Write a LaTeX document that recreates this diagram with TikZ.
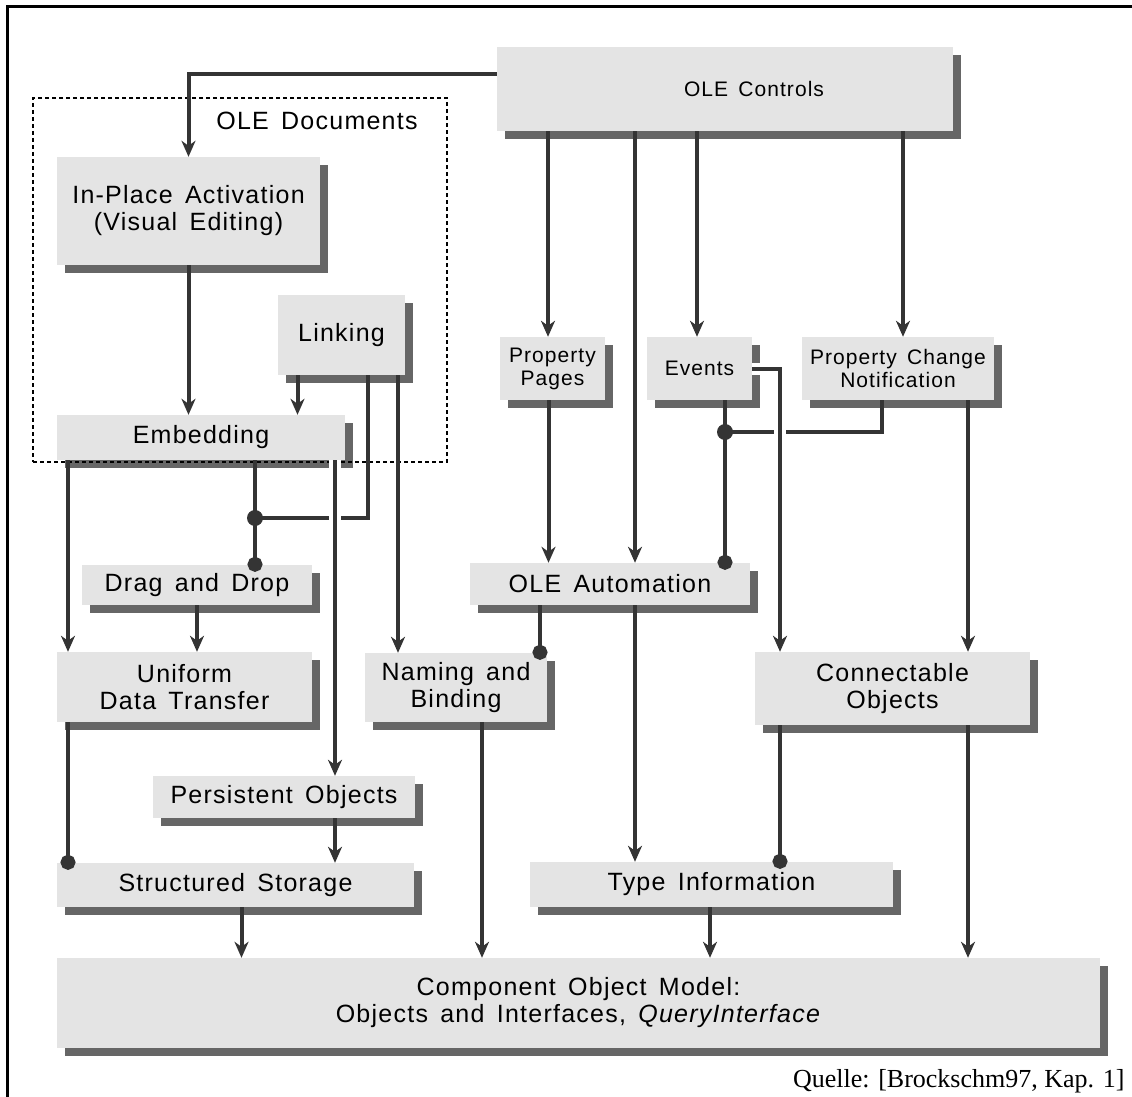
\documentclass[tikz,border=0pt]{standalone}
\usepackage{fontspec}
\setmainfont{Liberation Sans}[LetterSpace=5, WordSpace=1.5]
\newfontfamily\quellefont{Liberation Serif}
\usetikzlibrary{arrows.meta, shadows}
\definecolor{boxgray}{RGB}{228,228,228}
\definecolor{linegray}{RGB}{52,52,52}

\begin{document}
\begin{tikzpicture}[x=1pt, y=-1pt,
  box/.style={rectangle, fill=boxgray, inner sep=0pt, align=center, font=\fontsize{25}{27}\selectfont,
    drop shadow={shadow xshift=8pt, shadow yshift=-8pt, fill=black, opacity=0.6}},
  smallbox/.style={box, font=\fontsize{21}{23}\selectfont},
  conn/.style={draw=linegray, line width=4pt},
  arr/.style={conn, -{Stealth[length=16pt, width=14pt, inset=5pt]}},
  dotend/.style={conn, -{Circle[length=15pt]}, shorten >=-7pt},
  jdot/.style={circle, fill=linegray, inner sep=0pt, minimum size=16pt},
  gap/.style={preaction={draw=white, line width=12pt, -}}]

\useasboundingbox (0,0) rectangle (1132,1097);

% Rahmen
\draw[line width=3pt] (1132,7) -- (7,7) -- (7,1097);

% OLE Documents
\node[draw, dashed, line width=2pt, dash pattern=on 4pt off 3pt, minimum width=414pt, minimum height=364pt] (docs) at (240,280) {};
\node[font=\fontsize{25}{27}\selectfont] (docslabel) at (317,121) {OLE Documents};

% Kaesten
\node[box, minimum width=456pt, minimum height=84pt] (ctrl) at (725,89) {};
\node[font=\fontsize{21}{23}\selectfont] (ctrltext) at ([xshift=29pt]ctrl.center) {OLE Controls};
\node[box, minimum width=263pt, minimum height=108pt] (inplace) at (188.5,211) {In-Place Activation\\(Visual Editing)};
\node[box, minimum width=127pt, minimum height=80pt] (linking) at (341.5,335) {Linking};
\node[box, minimum width=288pt, minimum height=45pt] (embed) at (201,437.5) {Embedding};
\node[box, minimum width=230pt, minimum height=40pt] (dnd) at (197,585) {Drag and Drop};
\node[box, minimum width=255pt, minimum height=70pt] (udt) at (184.5,687) {Uniform\\Data Transfer};
\node[box, minimum width=182pt, minimum height=69pt] (naming) at (456,687.5) {Naming and\\Binding};
\node[box, minimum width=262pt, minimum height=42pt] (persist) at (284,797) {Persistent Objects};
\node[box, minimum width=357pt, minimum height=44pt] (storage) at (235.5,885) {Structured Storage};
\node[smallbox, minimum width=105pt, minimum height=63pt] (pages) at (552.5,368.5) {Property\\Pages};
\node[smallbox, minimum width=105pt, minimum height=63pt] (events) at (699.5,368.5) {Events};
\node[smallbox, minimum width=192pt, minimum height=63pt] (pcn) at (898,368.5) {Property Change\\Notification};
\node[box, minimum width=280pt, minimum height=42pt] (auto) at (610,584) {OLE Automation};
\node[box, minimum width=275pt, minimum height=73pt] (conn) at (892.5,688.5) {Connectable\\Objects};
\node[box, minimum width=363pt, minimum height=45pt] (typeinfo) at (711.5,884.5) {Type Information};
\node[box, minimum width=1043pt, minimum height=90pt] (com) at (578.5,1003) {Component Object Model:\\Objects and Interfaces, \textit{QueryInterface}};

% Knoten
\node[jdot] (j1) at (255,518) {};
\node[jdot] (j2) at (725,432) {};

% Linke Seite
\draw[arr] ([yshift=15pt]ctrl.west) -| (inplace.north);
\draw[arr] (inplace.south) -- (inplace.south |- embed.north);
\draw[arr] ([xshift=-44pt]linking.south) -- ([xshift=-44pt]linking.south |- embed.north);
\draw[conn] ([xshift=26.5pt]linking.south) |- (j1.center);
\draw[dotend] ([xshift=54pt]embed.south) -- ([xshift=54pt]embed.south |- dnd.north);
\draw[arr] ([xshift=56.5pt]linking.south) -- ([xshift=56.5pt]linking.south |- naming.north);
\draw[arr] ([xshift=-133pt]embed.south) -- ([xshift=-133pt]embed.south |- udt.north);
\draw[arr, gap] ([xshift=134pt]embed.south) -- ([xshift=134pt]embed.south |- persist.north);
\draw[arr] (dnd.south) -- (dnd.south |- udt.north);
\draw[dotend] ([xshift=-116.5pt]udt.south) -- ([xshift=-116.5pt]udt.south |- storage.north);
\draw[arr] ([xshift=51pt]persist.south) -- ([xshift=51pt]persist.south |- storage.north);
\draw[arr] ([xshift=6pt]storage.south) -- ([xshift=6pt]storage.south |- com.north);
\draw[arr] ([xshift=26pt]naming.south) -- ([xshift=26pt]naming.south |- com.north);

% Rechte Seite
\draw[arr] ([xshift=-177pt]ctrl.south) -- ([xshift=-177pt]ctrl.south |- pages.north);
\draw[arr] ([xshift=-90pt]ctrl.south) -- ([xshift=-90pt]ctrl.south |- auto.north);
\draw[arr] ([xshift=-28pt]ctrl.south) -- ([xshift=-28pt]ctrl.south |- events.north);
\draw[arr] ([xshift=178pt]ctrl.south) -- ([xshift=178pt]ctrl.south |- pcn.north);
\draw[arr] ([xshift=-4pt]pages.south) -- ([xshift=-4pt]pages.south |- auto.north);
\draw[conn] ([xshift=-16pt]pcn.south) |- (j2.center);
\draw[dotend] ([xshift=25.5pt]events.south) -- ([xshift=25.5pt]events.south |- auto.north);
\draw[arr, gap] (events.east) -| ([xshift=-112.5pt]conn.north);
\draw[arr] ([xshift=70pt]pcn.south) -- ([xshift=70pt]pcn.south |- conn.north);
\draw[dotend] ([xshift=-70pt]auto.south) -- ([xshift=-70pt]auto.south |- naming.north);
\draw[arr] ([xshift=25pt]auto.south) -- ([xshift=25pt]auto.south |- typeinfo.north);
\draw[dotend] ([xshift=-112.5pt]conn.south) -- ([xshift=-112.5pt]conn.south |- typeinfo.north);
\draw[arr] ([xshift=75.5pt]conn.south) -- ([xshift=75.5pt]conn.south |- com.north);
\draw[arr] ([xshift=-1.5pt]typeinfo.south) -- ([xshift=-1.5pt]typeinfo.south |- com.north);

% Quelle
\node[anchor=east, font=\quellefont\fontsize{26}{28}\selectfont] (quelle) at (1128,1081) {Quelle: [Brockschm97, Kap. 1]};

\end{tikzpicture}
\end{document}
